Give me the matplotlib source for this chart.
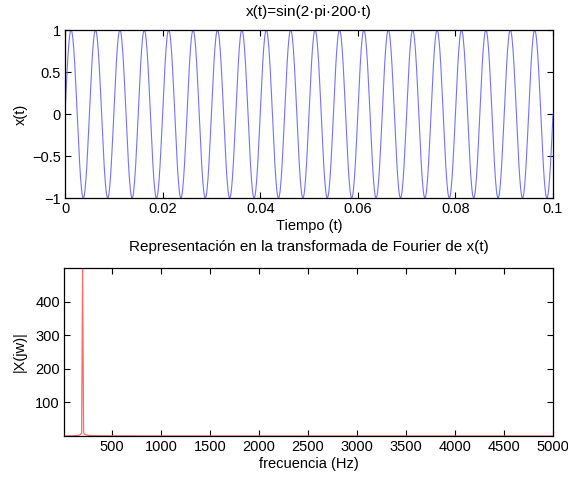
import numpy as np
import matplotlib
matplotlib.use("Agg")
import matplotlib.pyplot as plt

# Signal definition (from the chart title): x(t) = sin(2*pi*200*t)
signal_freq_hz = 200
sample_rate_hz = 10000
duration_s = 0.1

time_ticks = [0, 0.02, 0.04, 0.06, 0.08, 0.1]
time_tick_labels = ["0", "0.02", "0.04", "0.06", "0.08", "0.1"]
amp_ticks = [-1, -0.5, 0, 0.5, 1]
amp_tick_labels = ["\u22121", "\u22120.5", "0", "0.5", "1"]
freq_ticks = [500, 1000, 1500, 2000, 2500, 3000, 3500, 4000, 4500, 5000]
mag_ticks = [100, 200, 300, 400]

t = np.arange(0, duration_s + 1e-12, 1 / sample_rate_hz)
x = np.sin(2 * np.pi * signal_freq_hz * t)
X = np.abs(np.fft.fft(x))
N = len(x)
freqs = np.arange(N) * sample_rate_hz / N
half = slice(1, N // 2 + 1)

plt.rcParams['font.family'] = ['Liberation Sans', 'DejaVu Sans']
plt.rcParams['font.size'] = 10.5

fig = plt.figure(figsize=(5.68, 4.8), dpi=100)
W, H = 568, 480

def make_ax(l, r, t_, b):
    return fig.add_axes([l / W, 1 - b / H, (r - l) / W, (b - t_) / H])

ax1 = make_ax(65, 553, 30, 198)
ax2 = make_ax(64, 553, 268, 436)

ax1.plot(t, x, color='#7373ff', lw=0.8)
ax1.set_xlim(0, duration_s)
ax1.set_ylim(-1, 1)
ax1.set_xticks(time_ticks)
ax1.set_xticklabels(time_tick_labels)
ax1.set_yticks(amp_ticks)
ax1.set_yticklabels(amp_tick_labels)
ax1.set_title("x(t)=sin(2\u00b7pi\u00b7200\u00b7t)", fontsize=11, pad=10)
ax1.set_xlabel("Tiempo (t)", labelpad=2)
ax1.set_ylabel("x(t)", labelpad=3)

ax2.plot(freqs[half], X[half], color='#ff6a6a', lw=0.9)
ax2.set_xlim(freqs[1], 5000)
ax2.set_ylim(X[half].min(), X[half].max())
ax2.set_xticks(freq_ticks)
ax2.set_yticks(mag_ticks)
ax2.set_title("Representaci\u00f3n en la transformada de Fourier de x(t)", fontsize=11, pad=12)
ax2.set_xlabel("frecuencia (Hz)", labelpad=2)
ax2.set_ylabel("|X(jw)|", labelpad=6)

for ax in (ax1, ax2):
    ax.tick_params(direction='in', length=4, width=0.8, top=True, right=True,
                   labelsize=10.5, pad=3, colors='black')
    for s in ax.spines.values():
        s.set_linewidth(0.9)

fig.savefig("out.png", dpi=100)
